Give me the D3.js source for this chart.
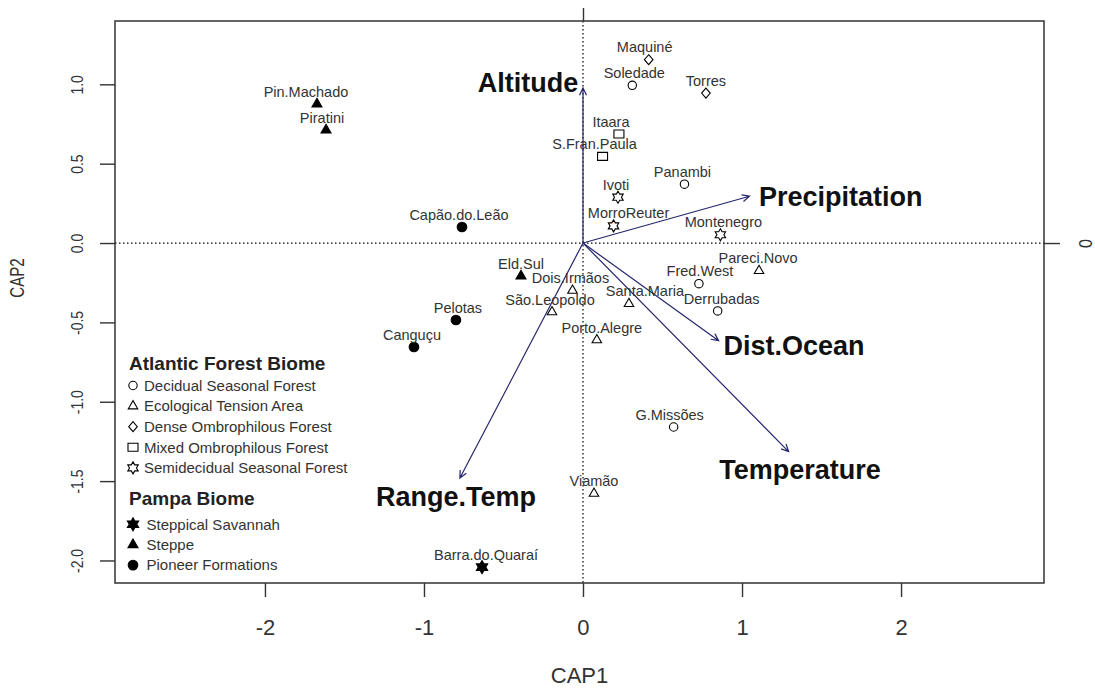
<!DOCTYPE html>
<html>
<head>
<meta charset="utf-8">
<script src="https://cdn.jsdelivr.net/npm/d3@7"></script>
<style>
  body { margin: 0; background: #fff; }
  text { font-family: "Liberation Sans", Arial, sans-serif; }
</style>
</head>
<body>
<script>
// sites (CAP scores)
const siteNames = ["Pin.Machado", "Piratini", "Capão.do.Leão", "Maquiné", "Soledade", "Torres",
  "Itaara", "S.Fran.Paula", "Panambi", "Ivoti", "MorroReuter", "Montenegro", "Eld.Sul",
  "Dois.Irmãos", "São.Leopoldo", "Porto.Alegre", "Pelotas", "Canguçu", "Pareci.Novo",
  "Fred.West", "Santa.Maria", "Derrubadas", "G.Missões", "Viamão", "Barra.do.Quaraí"];
const cap1 = [-1.673, -1.616, -0.761, 0.413, 0.310, 0.773, 0.226, 0.123, 0.638, 0.220, 0.192, 0.864,
  -0.390, -0.066, -0.195, 0.087, -0.799, -1.063, 1.107, 0.729, 0.289, 0.847, 0.570, 0.069, -0.635];
const cap2 = [0.876, 0.712, 0.101, 1.155, 0.994, 0.945, 0.687, 0.546, 0.371, 0.289, 0.108, 0.052,
  -0.208, -0.299, -0.435, -0.611, -0.485, -0.655, -0.175, -0.256, -0.383, -0.428, -1.159, -1.578, -2.042];
const siteType = ["Steppe", "Steppe", "Pioneer Formations", "Dense Ombrophilous Forest",
  "Decidual Seasonal Forest", "Dense Ombrophilous Forest", "Mixed Ombrophilous Forest",
  "Mixed Ombrophilous Forest", "Decidual Seasonal Forest", "Semidecidual Seasonal Forest",
  "Semidecidual Seasonal Forest", "Semidecidual Seasonal Forest", "Steppe",
  "Ecological Tension Area", "Ecological Tension Area", "Ecological Tension Area",
  "Pioneer Formations", "Pioneer Formations", "Ecological Tension Area", "Decidual Seasonal Forest",
  "Ecological Tension Area", "Decidual Seasonal Forest", "Decidual Seasonal Forest",
  "Ecological Tension Area", "Steppical Savannah"];

// environmental vectors
const varNames = ["Altitude", "Precipitation", "Dist.Ocean", "Temperature", "Range.Temp"];
const varCap1 = [0, 1.047, 0.853, 1.293, -0.774];
const varCap2 = [0.977, 0.295, -0.615, -1.314, -1.481];
const varLabelCap1 = [-0.346, 1.621, 1.327, 1.365, -0.799];
const varLabelCap2 = [1.014, 0.296, -0.648, -1.430, -1.600];

// axes
const xDomain = [-2.943, 2.899];
const yDomain = [-2.142, 1.399];
const xTicks = [-2, -1, 0, 1, 2];
const yTicks = [1.0, 0.5, 0.0, -0.5, -1.0, -1.5, -2.0];

// legend
const atlanticTitle = "Atlantic Forest Biome";
const atlanticTypes = ["Decidual Seasonal Forest", "Ecological Tension Area", "Dense Ombrophilous Forest",
  "Mixed Ombrophilous Forest", "Semidecidual Seasonal Forest"];
const pampaTitle = "Pampa Biome";
const pampaTypes = ["Steppical Savannah", "Steppe", "Pioneer Formations"];

// label nudges (px) so text sits like in the figure
const labelDx = [-11, -4, -3, -4, 2, 0, -8, -8, -2, -2, 15, 3, 0, -2, -2, 5, 2, -2, -1, 1, 16, 4, -4, 0, 4];

const W = 1095, H = 690;
const mLeft = 115, mRight = 1044, mTop = 21, mBottom = 583;

const svg = d3.select("body").append("svg")
    .attr("width", W)
    .attr("height", H);

const x = d3.scaleLinear().domain(xDomain).range([mLeft, mRight]);
const y = d3.scaleLinear().domain(yDomain).range([mBottom, mTop]);

// symbol shapes
const typeShape = {
  "Decidual Seasonal Forest": ["circle", false],
  "Ecological Tension Area": ["triangle", false],
  "Dense Ombrophilous Forest": ["diamond", false],
  "Mixed Ombrophilous Forest": ["square", false],
  "Semidecidual Seasonal Forest": ["star", false],
  "Steppical Savannah": ["star", true],
  "Steppe": ["triangle", true],
  "Pioneer Formations": ["circle", true]
};

function poly(pts) {
  return "M" + pts.map(p => p[0].toFixed(2) + "," + p[1].toFixed(2)).join("L") + "Z";
}
function shapePath(shape, filled) {
  if (shape === "circle") {
    const r = filled ? 4.8 : 4.2;
    const p = d3.path();
    p.arc(0, 0, r, 0, 2 * Math.PI);
    return p.toString();
  }
  if (shape === "triangle") {
    const a = filled ? 10 : 9.5, h = a * Math.sqrt(3) / 2;
    return poly([[0, -2 * h / 3], [a / 2, h / 3], [-a / 2, h / 3]]);
  }
  if (shape === "diamond") return poly([[0, -5], [4.3, 0], [0, 5], [-4.3, 0]]);
  if (shape === "square") return poly([[-5, -4], [5, -4], [5, 4], [-5, 4]]);
  // six-pointed star
  const R = filled ? 6.5 : 6, r = R * 0.58, pts = [];
  for (let i = 0; i < 12; i++) {
    const ang = -Math.PI / 2 + i * Math.PI / 6;
    const rr = i % 2 === 0 ? R : r;
    pts.push([rr * Math.cos(ang), rr * Math.sin(ang)]);
  }
  return poly(pts);
}
function drawSymbol(g, type, px, py) {
  const [shape, filled] = typeShape[type];
  g.append("path")
    .attr("d", shapePath(shape, filled))
    .attr("transform", `translate(${px},${py})`)
    .attr("fill", filled ? "#000" : "none")
    .attr("stroke", "#000")
    .attr("stroke-width", 1.1);
}

// dotted zero lines
svg.append("line")
    .attr("x1", x(0)).attr("x2", x(0)).attr("y1", mTop).attr("y2", mBottom)
    .attr("stroke", "#000").attr("stroke-width", 1.2).attr("stroke-dasharray", "1.5,2.5");
svg.append("line")
    .attr("x1", mLeft).attr("x2", mRight).attr("y1", y(0)).attr("y2", y(0))
    .attr("stroke", "#000").attr("stroke-width", 1.2).attr("stroke-dasharray", "1.5,2.5");

// box
svg.append("rect")
    .attr("x", mLeft).attr("y", mTop).attr("width", mRight - mLeft).attr("height", mBottom - mTop)
    .attr("fill", "none").attr("stroke", "#333").attr("stroke-width", 1.5);

// bottom axis
const xAxis = svg.append("g")
    .attr("transform", `translate(0,${mBottom})`)
    .call(d3.axisBottom(x).tickValues(xTicks).tickSize(14).tickSizeOuter(0).tickFormat(d => String(d)));
xAxis.select(".domain").remove();
xAxis.selectAll("line").attr("stroke", "#333").attr("stroke-width", 1.4);
xAxis.selectAll("text")
    .attr("y", 52).attr("dy", null)
    .attr("fill", "#333")
    .style("font-size", "22px");

// left axis
const yAxis = svg.append("g")
    .attr("transform", `translate(${mLeft},0)`)
    .call(d3.axisLeft(y).tickValues(yTicks).tickSize(15).tickSizeOuter(0).tickFormat(d => d.toFixed(1)));
yAxis.select(".domain").remove();
yAxis.selectAll("line").attr("stroke", "#333").attr("stroke-width", 1.4);
yAxis.selectAll("text")
    .attr("x", 0).attr("y", -37.5).attr("dy", "0.35em")
    .attr("text-anchor", "middle")
    .attr("transform", "rotate(-90) scale(0.82,1)")
    .attr("fill", "#333")
    .style("font-size", "17px");

// top and right axes of the vector scores (only the zero tick)
const topAxis = svg.append("g")
    .attr("transform", `translate(0,${mTop})`)
    .call(d3.axisTop(x).tickValues([0]).tickSize(13).tickSizeOuter(0).tickFormat(""));
topAxis.select(".domain").remove();
topAxis.selectAll("line").attr("stroke", "#333").attr("stroke-width", 1.4);

const rightAxis = svg.append("g")
    .attr("transform", `translate(${mRight},0)`)
    .call(d3.axisRight(y).tickValues([0]).tickSize(16).tickSizeOuter(0).tickFormat(d => String(d)));
rightAxis.select(".domain").remove();
rightAxis.selectAll("line").attr("stroke", "#333").attr("stroke-width", 1.4);
rightAxis.selectAll("text")
    .attr("x", 0).attr("y", 41).attr("dy", "0.35em")
    .attr("text-anchor", "middle")
    .attr("transform", "rotate(-90) scale(0.85,1)")
    .attr("fill", "#333")
    .style("font-size", "19px");

// axis titles
svg.append("text")
    .attr("x", (mLeft + mRight) / 2).attr("y", 683)
    .attr("text-anchor", "middle")
    .attr("fill", "#333")
    .style("font-size", "22px")
    .text("CAP1");
svg.append("text")
    .attr("transform", "translate(17,278) rotate(-90) scale(0.72,1)")
    .attr("text-anchor", "middle")
    .attr("dy", "0.35em")
    .attr("fill", "#333")
    .style("font-size", "21px")
    .text("CAP2");

// vectors
const arrowCol = "#25256e";
const arrows = svg.append("g");
varNames.forEach((name, i) => {
  const ox = x(0), oy = y(0), tx = x(varCap1[i]), ty = y(varCap2[i]);
  const a = Math.atan2(ty - oy, tx - ox), L = 8, th = Math.PI / 7;
  const h1 = [tx - L * Math.cos(a - th), ty - L * Math.sin(a - th)];
  const h2 = [tx - L * Math.cos(a + th), ty - L * Math.sin(a + th)];
  arrows.append("path")
    .attr("d", `M${ox},${oy}L${tx},${ty}M${h1[0]},${h1[1]}L${tx},${ty}L${h2[0]},${h2[1]}`)
    .attr("fill", "none")
    .attr("stroke", arrowCol)
    .attr("stroke-width", 1.2);
  arrows.append("text")
    .attr("x", x(varLabelCap1[i]))
    .attr("y", y(varLabelCap2[i]))
    .attr("dy", "0.35em")
    .attr("text-anchor", "middle")
    .attr("fill", "#111")
    .style("font-size", "27px")
    .style("font-weight", "bold")
    .text(name);
});

// sites
const pts = svg.append("g");
siteNames.forEach((name, i) => {
  const px = x(cap1[i]), py = y(cap2[i]);
  drawSymbol(pts, siteType[i], px, py);
  pts.append("text")
    .attr("x", px + labelDx[i])
    .attr("y", py - 12.5)
    .attr("dy", "0.35em")
    .attr("text-anchor", "middle")
    .attr("fill", "#333")
    .style("font-size", "14.5px")
    .text(name);
});

// legend
const legend = svg.append("g");
legend.append("text")
    .attr("x", 129).attr("y", 363).attr("dy", "0.35em")
    .attr("fill", "#222")
    .style("font-size", "19px").style("font-weight", "bold")
    .text(atlanticTitle);
atlanticTypes.forEach((t, i) => {
  const yy = 385.5 + i * 20.6;
  drawSymbol(legend, t, 133, yy);
  legend.append("text")
    .attr("x", 144).attr("y", yy).attr("dy", "0.35em")
    .attr("fill", "#333")
    .style("font-size", "15px")
    .text(t);
});
legend.append("text")
    .attr("x", 129).attr("y", 498).attr("dy", "0.35em")
    .attr("fill", "#222")
    .style("font-size", "19px").style("font-weight", "bold")
    .text(pampaTitle);
pampaTypes.forEach((t, i) => {
  const yy = 524.3 + i * 20.4;
  drawSymbol(legend, t, 133, yy);
  legend.append("text")
    .attr("x", 146.5).attr("y", yy).attr("dy", "0.35em")
    .attr("fill", "#333")
    .style("font-size", "15px")
    .text(t);
});
</script>
</body>
</html>
